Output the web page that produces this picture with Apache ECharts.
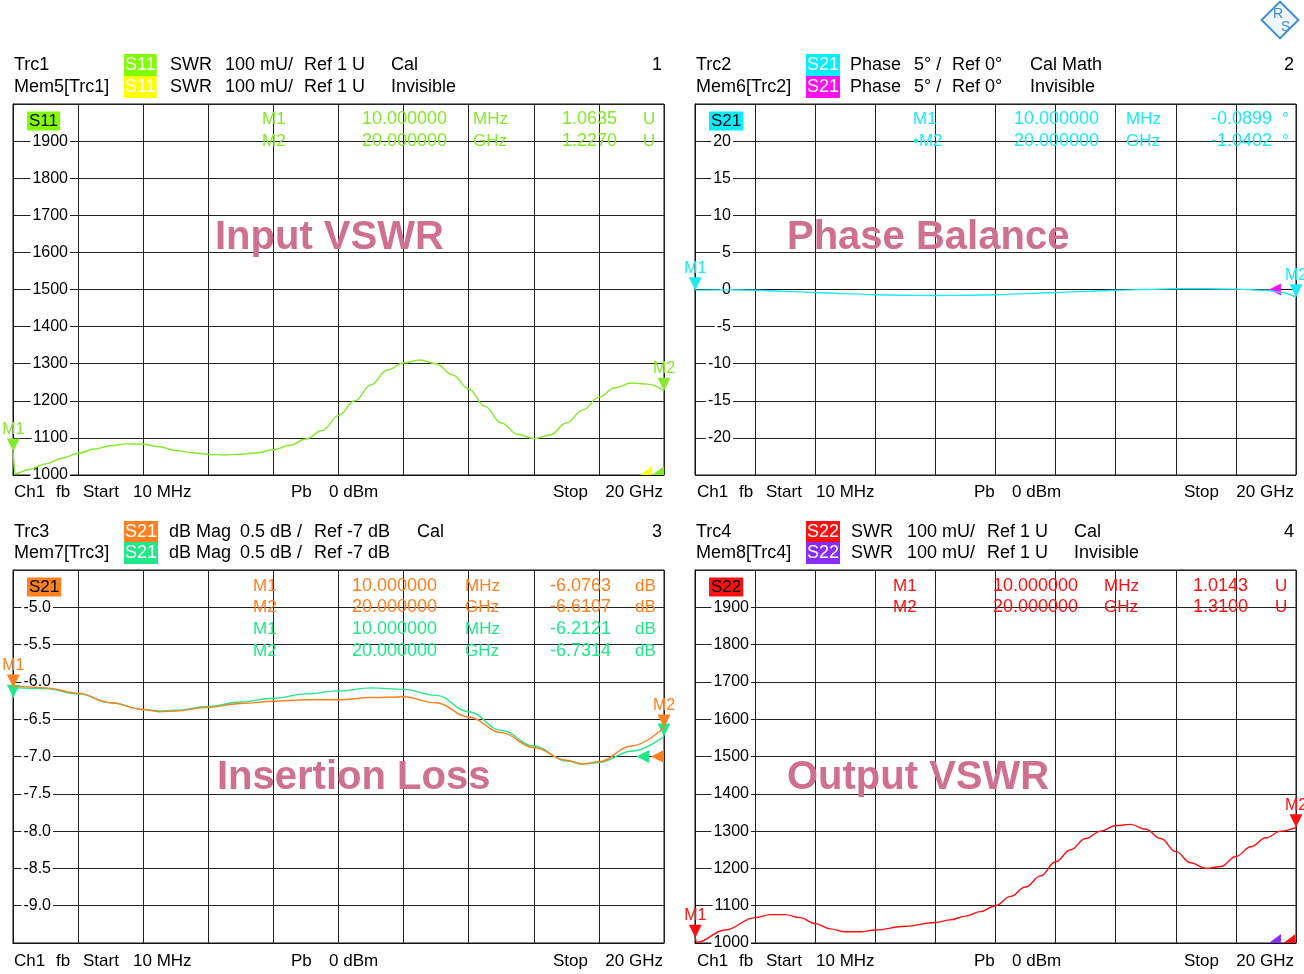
<!DOCTYPE html>
<html>
<head>
<meta charset="utf-8">
<script src="https://cdn.jsdelivr.net/npm/echarts@6/dist/echarts.min.js"></script>
<style>html,body{margin:0;padding:0;background:#fff}#c{width:1304px;height:974px}</style>
</head>
<body>
<div id="c"></div>
<script>
// ---- data (frequency in GHz) ----
const F1 = [0.01,0.06,0.5,1,1.5,2,2.5,3,3.5,4,4.5,5,5.5,6,6.5,7,7.5,8,8.5,9,9.5,10,10.5,11,11.5,12,12.5,13,13.5,14,14.5,15,15.5,16,16.5,17,17.5,18,18.5,19,19.5,20];
const S11 = [1063.5,1003,1015,1030,1045,1058,1070,1079,1084,1083,1076,1066,1060,1056,1054,1056,1060,1068,1080,1097,1120,1160,1200,1243,1283,1302,1310,1300,1270,1232,1185,1140,1110,1098,1108,1140,1175,1210,1235,1248,1245,1227];

const F2 = [0.01,1,2,3,4,5,6,7,8,9,10,11,12,13,14,15,16,17,18,19,19.5,20];
const PHASE = [-0.09,-0.05,-0.1,-0.25,-0.4,-0.55,-0.7,-0.78,-0.8,-0.78,-0.7,-0.55,-0.4,-0.25,-0.1,0,0.1,0.1,0.05,-0.1,-0.4,-1.04];

const F3 = [0.01,0.1,1,2,3,4,4.5,5,6,7,8,9,10,11,12,13,14,15,16,17,17.5,18,19,20];
const IL_TRC = [-6.0763,-6.06,-6.08,-6.15,-6.28,-6.37,-6.40,-6.39,-6.34,-6.29,-6.26,-6.24,-6.24,-6.21,-6.20,-6.28,-6.47,-6.68,-6.88,-7.05,-7.10,-7.07,-6.86,-6.6107];
const IL_MEM = [-6.2121,-6.08,-6.09,-6.16,-6.28,-6.37,-6.39,-6.38,-6.33,-6.27,-6.22,-6.16,-6.12,-6.08,-6.10,-6.18,-6.40,-6.65,-6.86,-7.06,-7.10,-7.08,-6.93,-6.7314];

const F4 = [0.01,0.06,1,2,2.5,3,3.5,4,4.5,5,5.5,6,7,8,8.5,9,9.5,10,10.5,11,11.5,12,12.5,13,13.5,14,14.5,15,15.5,16,16.5,17,17.5,18,18.5,19,19.5,20];
const S22 = [1014.3,1002,1035,1068,1076,1076,1068,1052,1038,1030,1030,1035,1045,1055,1062,1072,1084,1100,1125,1150,1180,1218,1250,1280,1300,1315,1318,1305,1280,1245,1215,1200,1205,1232,1258,1282,1300,1310];

const MARKERS = {
  s11: [['M1','10.000000','MHz','1.0635','U'],['M2','20.000000','GHz','1.2270','U']],
  ph:  [['M1','10.000000','MHz','-0.0899','°'],['•M2','20.000000','GHz','-1.0402','°']],
  ilT: [['M1','10.000000','MHz','-6.0763','dB'],['M2','20.000000','GHz','-6.6107','dB']],
  ilM: [['M1','10.000000','MHz','-6.2121','dB'],['M2','20.000000','GHz','-6.7314','dB']],
  s22: [['M1','10.000000','MHz','1.0143','U'],['M2','20.000000','GHz','1.3100','U']]
};

// ---- styles ----
const FONT = '"Liberation Sans", Arial, sans-serif';
const C = {s11:'#84e82c', s11m:'#ffff00', ph:'#1ee8f2', phm:'#ff10f0', ilT:'#ff8020', ilM:'#20e888', s22:'#ff1010', s22m:'#8a2cff', wm:'#d0708f'};
const GRIDS = [
  {left:13, top:104, width:651, height:371},
  {left:695, top:104, width:601, height:371},
  {left:13, top:570, width:651, height:373},
  {left:695, top:570, width:601, height:373}
];

const pairs = (f, v) => f.map((x, i) => [x, v[i]]);

function xAx(i){
  return {type:'value', gridIndex:i, min:0, max:20, interval:2,
    axisLabel:{show:false}, axisTick:{show:false},
    axisLine:{show:true, lineStyle:{color:'#111', width:1}},
    splitLine:{show:true, lineStyle:{color:'#222', width:1}}};
}
function yAx(i, min, max, interval, margin, fmt){
  return {type:'value', gridIndex:i, min, max, interval,
    axisTick:{show:false},
    axisLine:{show:true, lineStyle:{color:'#111', width:1}},
    splitLine:{show:true, lineStyle:{color:'#222', width:1}},
    axisLabel:{inside:true, align:'right', margin, formatter:fmt, color:'#000',
      fontFamily:FONT, fontSize:16, backgroundColor:'#fff', padding:[0,2]}};
}

function mk(coord, color, label, rot, size, offset){
  return {coord, symbol:'triangle', symbolRotate:rot, symbolSize:size||[13,13],
    symbolOffset: offset||[0,-6.5], itemStyle:{color},
    label:{show:!!label, formatter:label||'', position:'top', distance:1, color, fontFamily:FONT, fontSize:16}};
}
function corner(coord, color){
  return {coord, symbol:'path://M0,10L10,0L10,10Z', symbolSize:[12,9], symbolOffset:[0,-4.5],
    itemStyle:{color}, label:{show:false}};
}

function line(i, f, v, color, points){
  return {type:'line', xAxisIndex:i, yAxisIndex:i, data:pairs(f, v), showSymbol:false,
    smooth:0.4, smoothMonotone:'x', lineStyle:{color, width:1.4}, itemStyle:{color}, z:5,
    markPoint: points ? {silent:true, animation:false, data:points} : undefined, animation:false};
}

// ---- graphic text helpers ----
function T(x, y, text, o){
  o = o || {};
  const st = {text, x, y, fill:o.c||'#000', font:(o.w||'normal')+' '+(o.s||17)+'px '+FONT,
    textAlign:o.a||'left', align:o.a||'left', textVerticalAlign:'middle', verticalAlign:'middle'};
  if (o.bg){ st.backgroundColor = o.bg; st.padding = o.p || [1,2]; }
  return {type:'text', silent:true, z:100, style:st};
}
const G = [];
const HS = 18;
function header(x0, y, lead, box, boxColor, parts){
  G.push(T(x0, y, lead, {s:HS}));
  G.push(T(x0+110, y, box, {bg:boxColor, c:'#fff', p:[2,1], s:HS}));
  parts.forEach(p => G.push(T(p[0], y, p[1], {s:HS})));
}
function markerRows(x, ys, rows, color){
  rows.forEach((r, k) => {
    const y = ys[k];
    G.push(T(x[0], y, r[0], {c:color}));
    G.push(T(x[1], y, r[1], {c:color, a:'right', s:18}));
    G.push(T(x[2], y, r[2], {c:color}));
    G.push(T(x[3], y, r[3], {c:color, a:'right', s:18}));
    G.push(T(x[4], y, r[4], {c:color}));
  });
}
function footer(x0, xr, y){
  G.push(T(x0, y, 'Ch1'));
  G.push(T(x0+42, y, 'fb'));
  G.push(T(x0+69, y, 'Start'));
  G.push(T(x0+119, y, '10 MHz'));
  G.push(T(x0+277, y, 'Pb'));
  G.push(T(x0+315, y, '0 dBm'));
  G.push(T(xr-110, y, 'Stop'));
  G.push(T(xr, y, '20 GHz', {a:'right'}));
}

// Panel 1
header(14, 65, 'Trc1', 'S11', '#80ff00', [[170,'SWR'],[225,'100 mU/'],[304,'Ref 1 U'],[391,'Cal']]);
G.push(T(662, 65, '1', {a:'right', s:HS}));
header(14, 87, 'Mem5[Trc1]', 'S11', '#ffff00', [[170,'SWR'],[225,'100 mU/'],[304,'Ref 1 U'],[391,'Invisible']]);
// Panel 2
header(696, 65, 'Trc2', 'S21', '#00f0ff', [[850,'Phase'],[914,'5° /'],[952,'Ref 0°'],[1030,'Cal Math']]);
G.push(T(1294, 65, '2', {a:'right', s:HS}));
header(696, 87, 'Mem6[Trc2]', 'S21', '#ff10f0', [[850,'Phase'],[914,'5° /'],[952,'Ref 0°'],[1030,'Invisible']]);
// Panel 3
header(14, 532, 'Trc3', 'S21', '#ff8020', [[169,'dB Mag'],[240,'0.5 dB /'],[314,'Ref -7 dB'],[417,'Cal']]);
G.push(T(662, 532, '3', {a:'right', s:HS}));
header(14, 553, 'Mem7[Trc3]', 'S21', '#20e888', [[169,'dB Mag'],[240,'0.5 dB /'],[314,'Ref -7 dB']]);
// Panel 4
header(696, 532, 'Trc4', 'S22', '#ff1010', [[851,'SWR'],[907,'100 mU/'],[987,'Ref 1 U'],[1074,'Cal']]);
G.push(T(1294, 532, '4', {a:'right', s:HS}));
header(696, 553, 'Mem8[Trc4]', 'S22', '#8a2cff', [[851,'SWR'],[907,'100 mU/'],[987,'Ref 1 U'],[1074,'Invisible']]);

// in-plot trace labels
G.push(T(27, 121, 'S11', {bg:'#80ff00', p:[1,2]}));
G.push(T(709, 121, 'S21', {bg:'#00f0ff', p:[1,2]}));
G.push(T(27, 587, 'S21', {bg:'#ff8020', p:[1,2]}));
G.push(T(709, 587, 'S22', {bg:'#ff1010', p:[1,2]}));

// marker tables
markerRows([262,447,473,617,643], [119,141], MARKERS.s11, C.s11);
markerRows([913,1099,1126,1272,1282], [119,141], MARKERS.ph, C.ph);
markerRows([253,437,465,611,635], [586,607], MARKERS.ilT, C.ilT);
markerRows([253,437,465,611,635], [629,651], MARKERS.ilM, C.ilM);
markerRows([893,1078,1104,1248,1275], [586,607], MARKERS.s22, C.s22);

// footers
footer(14, 663, 492);
footer(697, 1294, 492);
footer(14, 663, 961);
footer(697, 1294, 961);

// watermarks
G.push(T(215, 238, 'Input VSWR', {c:C.wm, w:'bold', s:40}));
G.push(T(787, 238, 'Phase Balance', {c:C.wm, w:'bold', s:40}));
G.push(T(217, 778, 'Insertion Loss', {c:C.wm, w:'bold', s:40}));
G.push(T(787, 778, 'Output VSWR', {c:C.wm, w:'bold', s:40}));

// logo
G.push({type:'rect', silent:true, z:100, x:1280, y:20, rotation:Math.PI/4, originX:0, originY:0,
  shape:{x:-13, y:-13, width:26, height:26}, style:{fill:'#eef5fc', stroke:'#3d8fd6', lineWidth:2}});
G.push(T(1273, 14, 'R', {c:'#3d8fd6', s:14}));
G.push(T(1281, 27, 'S', {c:'#3d8fd6', s:14}));

const chart = echarts.init(document.getElementById('c'), null, {renderer:'canvas'});
chart.setOption({
  animation:false,
  backgroundColor:'#fff',
  grid: GRIDS.map(g => Object.assign({show:true, borderColor:'#111', borderWidth:1, containLabel:false}, g)),
  xAxis:[xAx(0), xAx(1), xAx(2), xAx(3)],
  yAxis:[
    yAx(0, 1000, 2000, 100, 57, v => v >= 2000 ? '' : String(v)),
    yAx(1, -25, 25, 5, 38, v => Math.abs(v) >= 25 ? '' : String(v)),
    yAx(2, -9.5, -4.5, 0.5, 40, v => (v > -4.6 || v < -9.4) ? '' : v.toFixed(1)),
    yAx(3, 1000, 2000, 100, 56, v => v >= 2000 ? '' : String(v))
  ],
  series:[
    line(0, F1, S11, C.s11, [
      mk([0.01, S11[0]], C.s11, 'M1', 180),
      mk([20, S11[S11.length-1]], C.s11, 'M2', 180),
      corner([19.45, 1000], C.s11m),
      corner([19.82, 1000], C.s11)
    ]),
    line(1, F2, PHASE, C.ph, [
      mk([0.01, PHASE[0]], C.ph, 'M1', 180),
      mk([19.3, 0], C.phm, '', 90, [12,12], [0,0]),
      mk([20, PHASE[PHASE.length-1]], C.ph, 'M2', 180)
    ]),
    line(2, F3, IL_MEM, C.ilM, [
      mk([0.01, IL_MEM[0]], C.ilM, '', 180),
      mk([20, IL_MEM[IL_MEM.length-1]], C.ilM, '', 180),
      mk([19.35, -7], C.ilM, '', 90, [13,13], [0,0])
    ]),
    line(2, F3, IL_TRC, C.ilT, [
      mk([0.01, IL_TRC[0]], C.ilT, 'M1', 180),
      mk([20, IL_TRC[IL_TRC.length-1]], C.ilT, 'M2', 180),
      mk([19.8, -7], C.ilT, '', 90, [13,13], [0,0])
    ]),
    line(3, F4, S22, C.s22, [
      mk([0.01, S22[0]], C.s22, 'M1', 180),
      mk([20, S22[S22.length-1]], C.s22, 'M2', 180),
      corner([19.3, 1000], C.s22m),
      corner([19.78, 1000], C.s22)
    ])
  ],
  graphic: G
});
</script>
</body>
</html>
